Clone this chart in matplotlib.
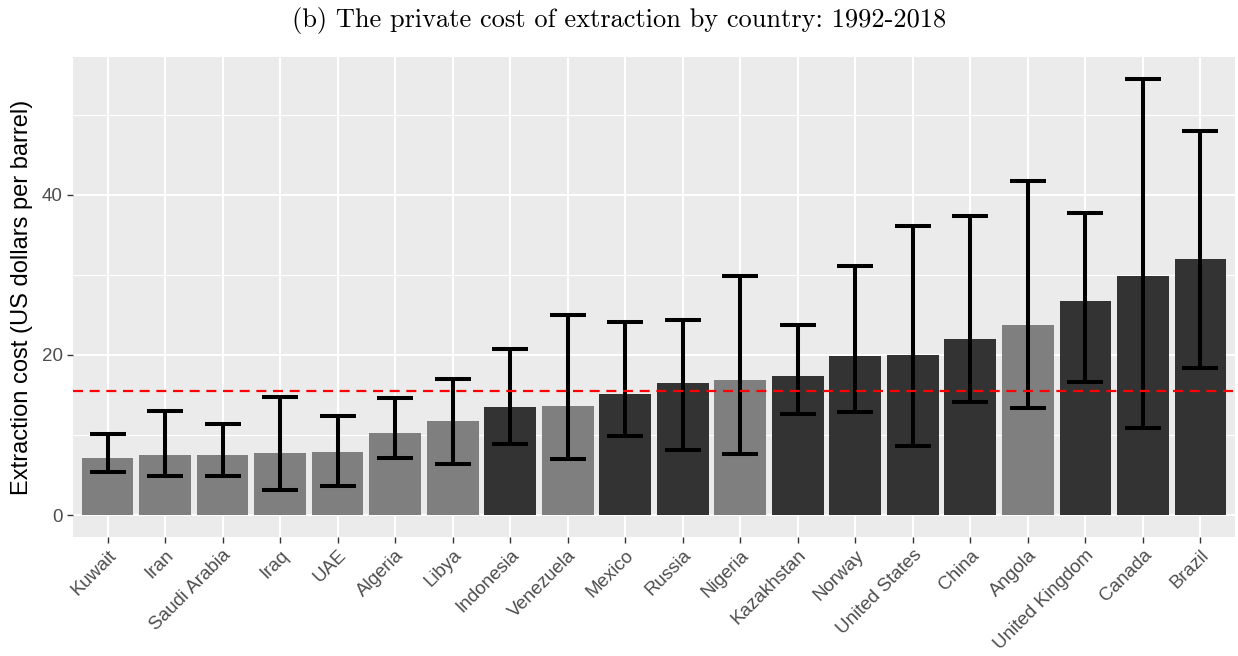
import matplotlib.pyplot as plt
import numpy as np

countries = ['Kuwait', 'Iran', 'Saudi Arabia', 'Iraq', 'UAE', 'Algeria', 'Libya',
             'Indonesia', 'Venezuela', 'Mexico', 'Russia', 'Nigeria', 'Kazakhstan',
             'Norway', 'United States', 'China', 'Angola', 'United Kingdom',
             'Canada', 'Brazil']
cost = [7.1, 7.5, 7.5, 7.75, 7.9, 10.25, 11.75, 13.5, 13.6, 15.1, 16.5, 16.9,
        17.4, 19.9, 20.0, 22.0, 23.75, 26.75, 29.9, 32.0]
upper = [10.1, 13.0, 11.4, 14.75, 12.4, 14.6, 17.0, 20.75, 25.0, 24.1, 24.4, 29.9,
         23.75, 31.1, 36.1, 37.4, 41.75, 37.75, 54.5, 48.0]
lower = [5.4, 4.9, 4.9, 3.1, 3.6, 7.1, 6.4, 8.9, 7.0, 9.9, 8.1, 7.6,
         12.6, 12.9, 8.6, 14.1, 13.4, 16.6, 10.9, 18.4]
opec = [True, True, True, True, True, True, True, False, True, False, False, True,
        False, False, False, False, True, False, False, False]
mean_cost = 15.5

cost = np.array(cost)
upper = np.array(upper)
lower = np.array(lower)
colors = ['#7f7f7f' if o else '#333333' for o in opec]
x = np.arange(len(countries))

fig = plt.figure(figsize=(12.38, 6.56), dpi=100)
ax = fig.add_axes([73 / 1238, 1 - 537 / 656, (1235 - 73) / 1238, (537 - 57) / 656])
ax.set_facecolor('#EBEBEB')

# grid
for v in [10, 30, 50]:
    ax.axhline(v, color='white', lw=0.8, zorder=0)
for v in [0, 20, 40]:
    ax.axhline(v, color='white', lw=1.5, zorder=0)
for xi in x:
    ax.axvline(xi, color='white', lw=1.5, zorder=0)

ax.bar(x, cost, width=0.9, color=colors, zorder=2)
ax.errorbar(x, cost, yerr=[cost - lower, upper - cost], fmt='none', ecolor='black',
            elinewidth=2.9, capsize=12.8, capthick=2.9, zorder=3)
ax.axhline(mean_cost, color='red', lw=1.6, ls=(0, (4.5, 3)), zorder=4)

ax.set_xlim(-0.6, len(countries) - 0.4)
ax.set_ylim(-2.73, 57.2)
ax.set_yticks([0, 20, 40])
ax.set_xticks(x)
ax.set_xticklabels(countries, rotation=45, ha='right', rotation_mode='anchor',
                   fontsize=13.5, color='#4d4d4d', family='Liberation Sans')
for lab in ax.get_yticklabels():
    lab.set_fontsize(13.5)
    lab.set_color('#4d4d4d')
    lab.set_family('Liberation Sans')
ax.tick_params(axis='both', length=4, width=1, color='#333333')
ax.tick_params(axis='x', pad=3)
for s in ax.spines.values():
    s.set_visible(False)

ax.set_ylabel('Extraction cost (US dollars per barrel)', fontsize=17,
              family='Liberation Sans', labelpad=6)
fig.text(0.5, 1 - 21 / 656, '(b) The private cost of extraction by country: 1992-2018',
         ha='center', va='center', fontsize=19, family='cmr10')

fig.savefig('out.png', dpi=100)
